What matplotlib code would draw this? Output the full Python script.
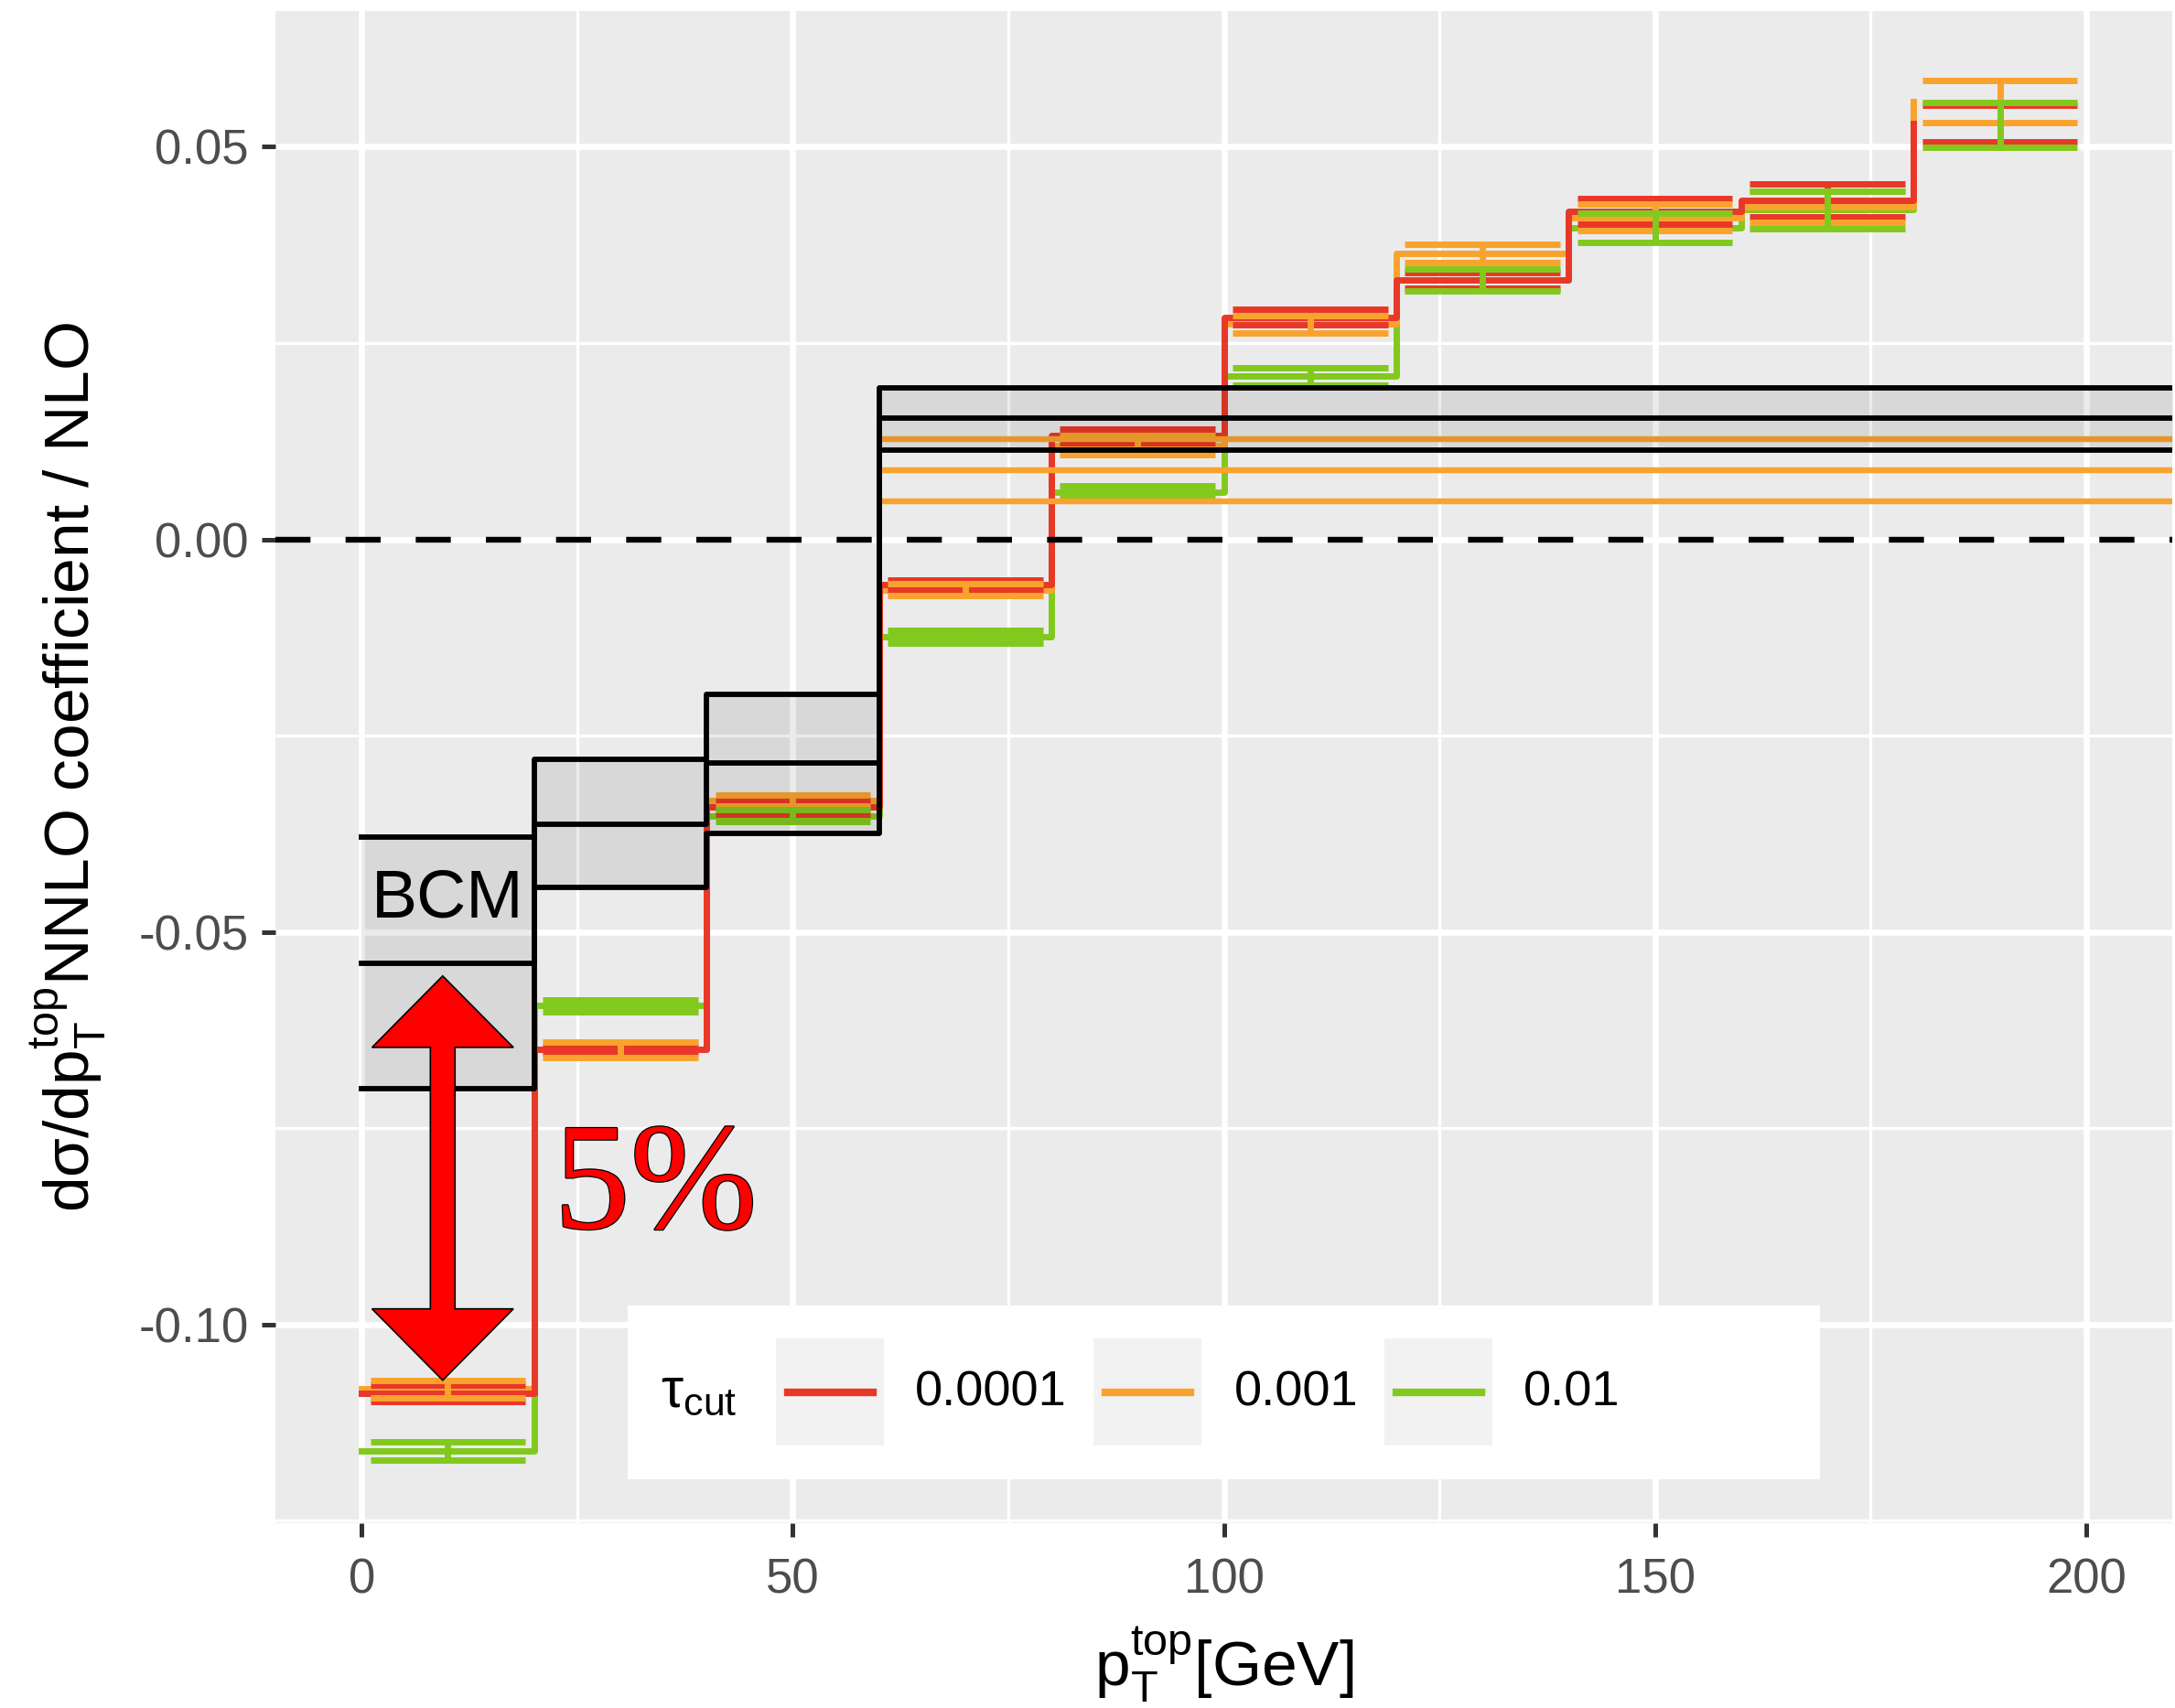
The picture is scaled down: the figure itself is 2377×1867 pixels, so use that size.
import numpy as np
import matplotlib
matplotlib.use('Agg')
import matplotlib.pyplot as plt
import matplotlib.patches as patches
import matplotlib.patheffects as pe
from matplotlib.lines import Line2D
from matplotlib.ticker import FixedLocator

plt.rcParams['font.family'] = ['Liberation Sans', 'DejaVu Sans']
plt.rcParams['mathtext.fontset'] = 'custom'
plt.rcParams['mathtext.rm'] = 'Liberation Sans'
plt.rcParams['mathtext.it'] = 'Liberation Sans:italic'
plt.rcParams['axes.unicode_minus'] = False

# bins in pT (GeV)
bin_lo = [0, 20, 40, 60, 80, 100, 120, 140, 160, 180]
bin_mid = [10, 30, 50, 70, 90, 110, 130, 150, 170, 190]

# tau_cut = 0.0001
red_val = [-0.1087, -0.0650, -0.0341, -0.0058, 0.0132, 0.0283, 0.0330, 0.0418, 0.0432, 0.0530]
red_err = [0.00105, 0.00045, 0.00085, 0.00065, 0.0009, 0.0010, 0.0010, 0.0016, 0.0021, 0.00235]
# tau_cut = 0.001
orange_val = [-0.1082, -0.0650, -0.0333, -0.0064, 0.0120, 0.0274, 0.0364, 0.0410, 0.0424, 0.0558]
orange_err = [0.0011, 0.0010, 0.0007, 0.00075, 0.0012, 0.0011, 0.0012, 0.0017, 0.0020, 0.0027]
# tau_cut = 0.01
green_val = [-0.1161, -0.0594, -0.0352, -0.0124, 0.0060, 0.0208, 0.0330, 0.0397, 0.0420, 0.0528]
green_err = [0.00115, 0.00075, 0.00075, 0.00082, 0.0008, 0.0011, 0.0014, 0.00185, 0.0024, 0.00285]

# BCM band (last bin runs on past the plot edge)
bcm_x = [0, 20, 40, 60, 230]
bcm_mid = [-0.0540, -0.0363, -0.0285, 0.0154]
bcm_up = [-0.0379, -0.0280, -0.0197, 0.0193]
bcm_dn = [-0.0699, -0.0443, -0.0374, 0.0114]

# extra orange band lines from 60 GeV
band2_start = 60
band2_levels = [0.0128, 0.0088, 0.0048]

tau_labels = ['0.0001', '0.001', '0.01']
colors = ['#E83828', '#F9A32E', '#82C91E']

W, H = 2377, 1867
fig = plt.figure(figsize=(W / 200, H / 200), dpi=200)
ax = fig.add_axes([301 / W, 1 - 1665 / H, (2374 - 301) / W, (1665 - 12) / H])
ax.set_facecolor('#EBEBEB')
for s in ax.spines.values():
    s.set_visible(False)

ax.set_xlim(-10, 210)
ax.set_ylim(-0.1253, 0.0673)
ax.set_xticks([0, 50, 100, 150, 200])
ax.set_yticks([0.05, 0.0, -0.05, -0.10])
ax.set_yticklabels(['0.05', '0.00', '-0.05', '-0.10'])
ax.xaxis.set_minor_locator(FixedLocator([25, 75, 125, 175]))
ax.yaxis.set_minor_locator(FixedLocator([0.025, -0.025, -0.075, -0.125]))
ax.set_axisbelow(True)
ax.grid(which='major', color='white', lw=2.4)
ax.grid(which='minor', color='white', lw=1.2)
ax.tick_params(which='major', length=5.5, width=1.8, color='#333333',
               labelsize=19, labelcolor='#4D4D4D', pad=5)
ax.tick_params(axis='x', which='major', pad=8)
ax.tick_params(which='minor', length=0)

vals = [red_val, orange_val, green_val]
errs = [red_err, orange_err, green_err]
mid = np.array(bin_mid)

# step lines (red on top)
for k in [2, 1, 0]:
    ax.step(bin_lo, vals[k], where='post', color=colors[k], lw=2.5,
            solid_joinstyle='round', zorder=2.0 + 0.05 * (2 - k))

# error bars (green on top)
for k in [0, 1, 2]:
    v = np.array(vals[k])
    e = np.array(errs[k])
    z = 2.3 + 0.05 * k
    ax.vlines(mid, v - e, v + e, color=colors[k], lw=2.5, zorder=z)
    ax.hlines(v - e, mid - 9, mid + 9, color=colors[k], lw=2.5, zorder=z)
    ax.hlines(v + e, mid - 9, mid + 9, color=colors[k], lw=2.5, zorder=z)

for lev in band2_levels:
    ax.hlines(lev, band2_start, 230, color=colors[1], lw=2.3, zorder=2.6)

for arr in [bcm_up, bcm_mid, bcm_dn]:
    ax.step(bcm_x, arr + [arr[-1]], where='post', color='black', lw=2.1,
            solid_joinstyle='round', zorder=2.7)
ax.fill_between(bcm_x, bcm_dn + [bcm_dn[-1]], bcm_up + [bcm_up[-1]], step='post',
                color='black', alpha=0.08, lw=0, zorder=2.8)

ax.axhline(0, color='black', lw=2.3, dashes=(6.0, 6.0), zorder=2.9)

ax.text(10, -0.0458, 'BCM', fontsize=27, ha='center', va='center', zorder=3.1)

# double arrow
x0, hw, sw = 9.4, 8.2, 1.43
yt, yb, hl = -0.0556, -0.1071, 0.0091
arrow_pts = [(x0, yt), (x0 + hw, yt - hl), (x0 + sw, yt - hl), (x0 + sw, yb + hl),
             (x0 + hw, yb + hl), (x0, yb), (x0 - hw, yb + hl), (x0 - sw, yb + hl),
             (x0 - sw, yt - hl), (x0 - hw, yt - hl)]
ax.add_patch(patches.Polygon(arrow_pts, closed=True, fc='#FF0000', ec='black', lw=0.6, zorder=3.0))

t = ax.text(22.3, -0.0877, '5%', fontsize=60, color='#FF0000', fontfamily='Liberation Serif',
            ha='left', va='baseline', zorder=3.1)
t.set_path_effects([pe.withStroke(linewidth=0.9, foreground='black')])

ax.set_xlabel(r'$\mathregular{p_T^{top}}$[GeV]', fontsize=25, va='baseline')
ax.xaxis.set_label_coords(0.5, -0.1077)
ax.set_ylabel(r'dσ/d$\mathregular{p_T^{top}}$NNLO coefficient / NLO', fontsize=25, va='baseline')
ax.yaxis.set_label_coords(-0.0979, 0.5)


# legend drawn by hand (figure pixels -> fractions)
def fx(x):
    return x / W


def fy(y):
    return 1 - y / H


fig.add_artist(patches.Rectangle((fx(686), fy(1617)), fx(1989) - fx(686), (1617 - 1427) / H,
                                 transform=fig.transFigure, fc='white', ec='none', zorder=5))
fig.text(fx(722), fy(1522), r'$\mathregular{\tau_{cut}}$', fontsize=22, va='center', ha='left', zorder=6)
key_left = [848, 1195, 1513]
lab_left = [1000, 1349, 1665]
for k in range(3):
    kl = key_left[k]
    fig.add_artist(patches.Rectangle((fx(kl), fy(1580)), 118 / W, (1580 - 1463) / H,
                                     transform=fig.transFigure, fc='#F2F2F2', ec='none', zorder=6))
    fig.add_artist(Line2D([fx(kl + 13), fx(kl + 106)], [fy(1522), fy(1522)],
                          transform=fig.transFigure, color=colors[k], lw=3.0, zorder=7))
    fig.text(fx(lab_left[k]), fy(1522), tau_labels[k], fontsize=19.5, va='center', ha='left', zorder=7)

fig.savefig('out.png', dpi=200, facecolor='white')
